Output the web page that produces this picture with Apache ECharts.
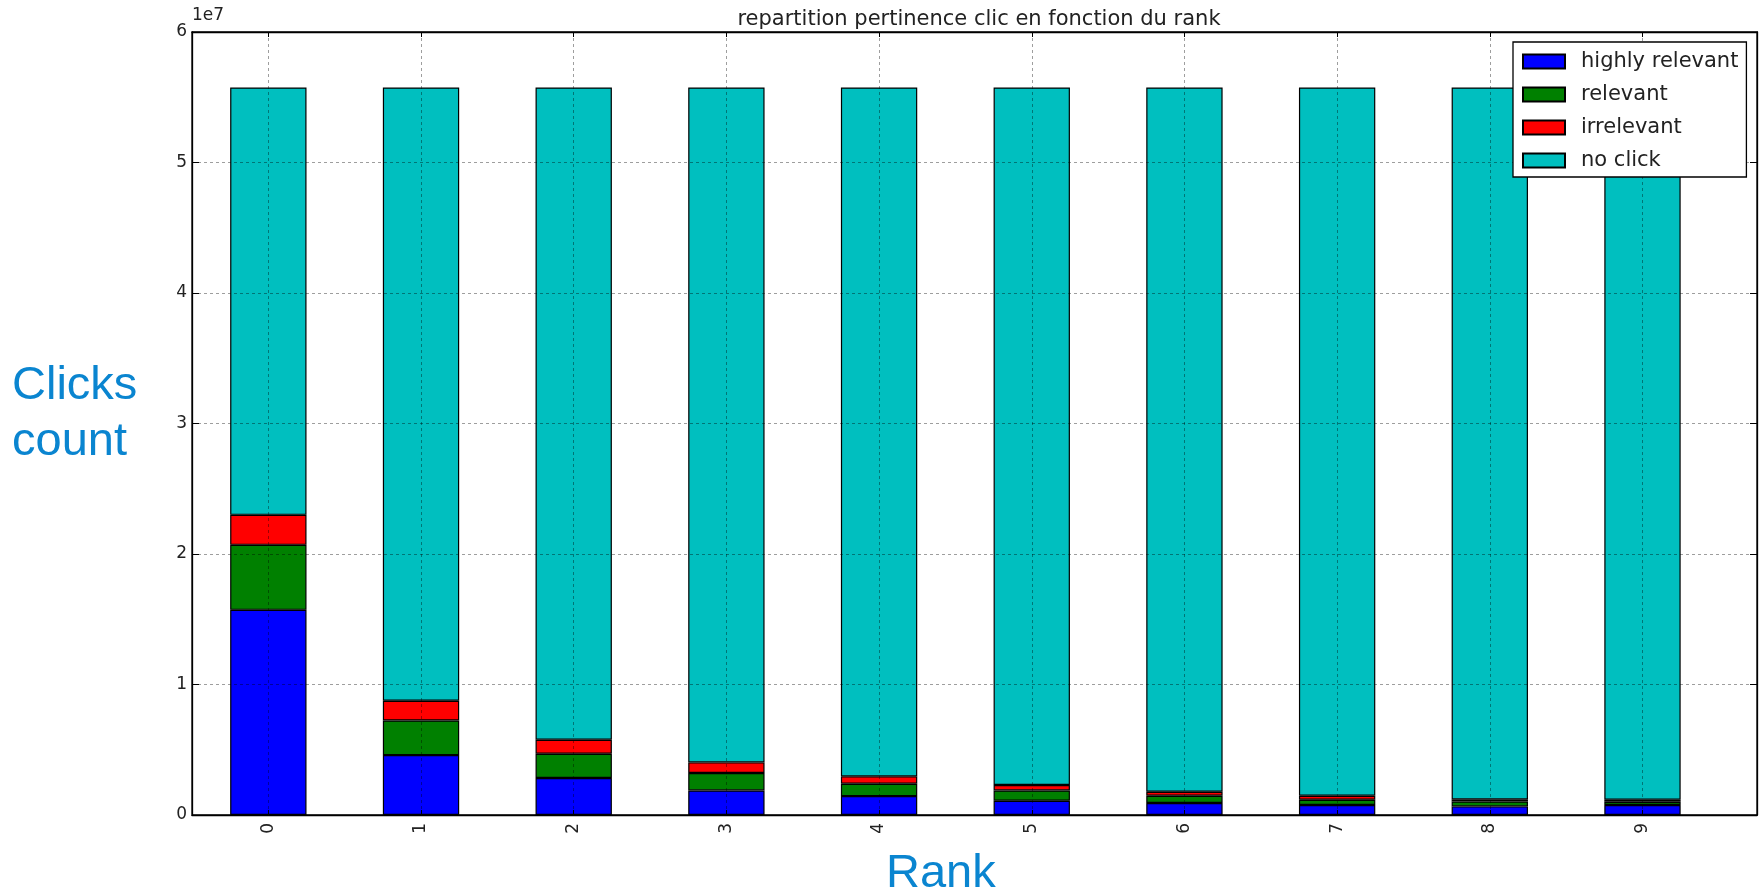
<!DOCTYPE html>
<html>
<head>
<meta charset="utf-8">
<script src="https://cdn.jsdelivr.net/npm/echarts@6/dist/echarts.min.js"></script>
<style>html,body{margin:0;padding:0;background:#fff;}#chart{width:1764px;height:894px;}</style>
</head>
<body>
<div id="chart"></div>
<script>
const categories = [0, 1, 2, 3, 4, 5, 6, 7, 8, 9];
const highlyRelevant = [15720000, 4590000, 2830000, 1880000, 1450000, 1090000, 920000, 770000, 660000, 770000];
const relevant = [4980000, 2650000, 1860000, 1340000, 950000, 790000, 560000, 400000, 380000, 250000];
const irrelevant = [2300000, 1510000, 1080000, 810000, 560000, 420000, 300000, 310000, 160000, 150000];
const noClick = [32750000, 47000000, 49980000, 51720000, 52790000, 53450000, 53970000, 54270000, 54550000, 54580000];
const yTicks = [0, 1, 2, 3, 4, 5, 6];
const seriesNames = ['highly relevant', 'relevant', 'irrelevant', 'no click'];
const seriesColors = ['#0000ff', '#008000', '#ff0000', '#00bfbf'];
const seriesValues = [highlyRelevant, relevant, irrelevant, noClick];

const chart = echarts.init(document.getElementById('chart'), null, {renderer: 'canvas'});
const tickFont = {fontFamily: 'DejaVu Sans', fontSize: 17, color: '#222'};
const gridLine = {show: true, lineStyle: {color: 'rgba(0,0,0,0.38)', type: [3, 3], width: 1}};

const option = {
  animation: false,
  backgroundColor: '#fff',
  title: {
    text: 'repartition pertinence clic en fonction du rank',
    left: 974, top: 4, textAlign: 'center',
    textStyle: {fontFamily: 'DejaVu Sans', fontSize: 21, fontWeight: 'normal', color: '#222'}
  },
  grid: {left: 192, top: 32, right: 7, bottom: 79, show: true, borderColor: '#000', borderWidth: 1.3, containLabel: false},
  legend: {
    orient: 'vertical', left: 1513, top: 42, z: 20,
    backgroundColor: '#fff', borderColor: '#000', borderWidth: 1.3,
    padding: [9, 8, 6, 9],
    itemWidth: 42, itemHeight: 14, itemGap: 12, icon: 'rect',
    textStyle: {fontFamily: 'DejaVu Sans', fontSize: 21, color: '#222', padding: [0, 0, 0, 11]},
    data: seriesNames
  },
  xAxis: [{
    type: 'value', position: 'bottom', min: -0.5, max: 9.75, z: 10,
    axisLine: {show: true, onZero: false, lineStyle: {color: '#000', width: 1.3}},
    axisTick: {show: true, inside: true, length: 5, customValues: categories, lineStyle: {color: '#000'}},
    axisLabel: Object.assign({rotate: 90, margin: 8, customValues: categories, formatter: v => String(v)}, tickFont),
    splitLine: Object.assign({customValues: categories}, gridLine)
  }, {
    type: 'value', position: 'top', min: -0.5, max: 9.75, z: 10,
    axisLine: {show: true, onZero: false, lineStyle: {color: '#000', width: 1.3}},
    axisTick: {show: true, inside: true, length: 5, customValues: categories, lineStyle: {color: '#000'}},
    axisLabel: {show: false},
    splitLine: {show: false}
  }],
  yAxis: [{
    type: 'value', position: 'left', min: 0, max: 60000000, interval: 10000000, z: 10,
    name: '1e7', nameLocation: 'end', nameGap: 4,
    nameTextStyle: {fontFamily: 'DejaVu Sans', fontSize: 17, color: '#222', align: 'left', verticalAlign: 'bottom'},
    axisLine: {show: true, onZero: false, lineStyle: {color: '#000', width: 1.3}},
    axisTick: {show: true, inside: true, length: 7, lineStyle: {color: '#000'}},
    axisLabel: Object.assign({margin: 5, formatter: v => String(yTicks[Math.round(v / 10000000)])}, tickFont),
    splitLine: gridLine
  }, {
    type: 'value', position: 'right', min: 0, max: 60000000, interval: 10000000, z: 10,
    axisLine: {show: true, onZero: false, lineStyle: {color: '#000', width: 1.3}},
    axisTick: {show: true, inside: true, length: 7, lineStyle: {color: '#000'}},
    axisLabel: {show: false},
    splitLine: {show: false}
  }],
  graphic: [
    {type: 'text', left: 12, top: 358, z: 30, style: {text: 'Clicks\ncount', fontFamily: 'Liberation Sans', fontSize: 47, lineHeight: 56, fill: '#0a85d0'}},
    {type: 'text', left: 886, top: 851, z: 30, style: {text: 'Rank', fontFamily: 'Liberation Sans', fontSize: 47, fill: '#0a85d0'}}
  ],
  series: seriesNames.map((name, s) => ({
    name: name, type: 'bar', stack: 'total', xAxisIndex: 0, yAxisIndex: 0,
    barWidth: '50%',
    encode: {x: 1, y: 0},
    itemStyle: {color: seriesColors[s], borderColor: '#000', borderWidth: 1.2},
    data: categories.map((c, i) => [seriesValues[s][i], c])
  }))
};
chart.setOption(option);
</script>
</body>
</html>
